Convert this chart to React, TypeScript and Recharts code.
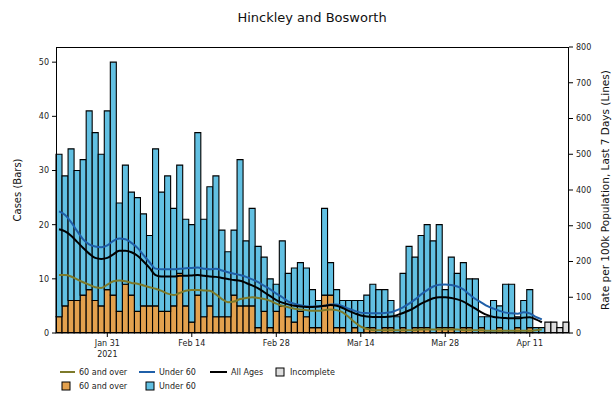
import { Bar, ComposedChart, Line, XAxis, YAxis } from "recharts";

// daily cases, Jan 23 -> Apr 17 2021 (last 4 days incomplete)
const START = new Date(2021, 0, 23);
const MONTHS = ["Jan", "Feb", "Mar", "Apr", "May", "Jun", "Jul", "Aug", "Sep", "Oct", "Nov", "Dec"];

const totalCases = [
  33, 29, 34, 30, 32, 41, 37, 33, 41, 50, 24, 31, 26, 25, 22, 18, 34, 26, 29, 23,
  31, 21, 20, 37, 21, 27, 29, 19, 15, 19, 32, 17, 23, 16, 14, 10, 9, 17, 11, 12,
  13, 12, 8, 6, 23, 13, 8, 6, 6, 6, 6, 7, 9, 8, 8, 6, 3, 11, 16, 14,
  18, 20, 17, 20, 8, 14, 11, 13, 10, 10, 3, 3, 6, 5, 9, 9, 3, 6, 8, 1,
  1, 2, 2, 1, 2,
];

const over60Cases = [
  3, 5, 6, 6, 7, 8, 6, 5, 8, 7, 4, 9, 7, 4, 5, 5, 5, 4, 4, 5,
  11, 5, 2, 7, 3, 5, 3, 3, 3, 7, 5, 5, 5, 1, 4, 1, 4, 5, 3, 2,
  4, 3, 1, 1, 7, 7, 1, 1, 0, 1, 0, 1, 1, 0, 1, 1, 0, 1, 0, 1,
  1, 1, 0, 1, 1, 1, 0, 1, 1, 0, 1, 0, 0, 1, 0, 0, 1, 0, 1, 0,
  0,
];

const INCOMPLETE_DAYS = 4;

// rate per 100k, last 7 days
const rateOver60 = [
  162, 162, 158, 150, 142, 135, 128, 126, 135, 145, 147, 145, 140, 138, 133, 128, 124, 118, 110, 106,
  112, 118, 120, 120, 119, 118, 108, 95, 86, 88, 95, 98, 100, 98, 95, 90, 82, 76, 72, 68,
  66, 64, 62, 62, 64, 66, 64, 58, 45, 30, 18, 12, 8, 8, 8, 8, 8, 8, 8, 8,
  10, 10, 10, 10, 10, 10, 10, 8, 8, 8, 8, 6, 6, 6, 6, 6, 6, 6, 6, 8,
  10,
];

const rateUnder60 = [
  340, 330, 310, 285, 262, 248, 242, 240, 245, 258, 264, 262, 252, 238, 218, 198, 180, 178, 178, 178,
  180, 181, 182, 183, 180, 178, 180, 175, 170, 166, 162, 157, 150, 142, 132, 122, 110, 100, 88, 82,
  78, 75, 74, 74, 76, 80, 80, 75, 68, 62, 57, 56, 55, 55, 56, 58, 64, 72, 82, 94,
  108, 120, 130, 135, 136, 134, 130, 122, 108, 95, 85, 75, 68, 62, 57, 55, 54, 58, 55, 45,
  38,
];

const rateAllAges = [
  290, 284, 272, 255, 238, 222, 210, 207, 210, 220, 230, 230, 226, 216, 200, 182, 162, 158, 158, 158,
  160, 160, 161, 162, 160, 158, 157, 154, 151, 148, 146, 140, 133, 125, 114, 103, 92, 85, 80, 76,
  74, 73, 73, 74, 76, 78, 76, 70, 62, 55, 49, 46, 45, 45, 45, 46, 50, 56, 63, 72,
  82, 90, 97, 100, 100, 98, 94, 88, 78, 68, 58, 50, 45, 43, 42, 41, 41, 43, 44, 38,
  30,
];

const tickLabels = ["Jan 31", "Feb 14", "Feb 28", "Mar 14", "Mar 28", "Apr 11"];
const leftTicks = [0, 10, 20, 30, 40, 50];
const rightTicks = [0, 100, 200, 300, 400, 500, 600, 700, 800];

const ORANGE = "#e3a14e";
const SKY = "#62c0e2";
const GREY = "#dedede";
const OLIVE = "#7d7a2a";
const BLUE = "#1f5fa8";
const FONT = "DejaVu Sans, sans-serif";

const data = totalCases.map((total, i) => {
  const d = new Date(START.getTime());
  d.setDate(START.getDate() + i);
  const complete = i < totalCases.length - INCOMPLETE_DAYS;
  const over = complete ? over60Cases[i] : 0;
  return {
    date: `${MONTHS[d.getMonth()]} ${d.getDate()}`,
    over60: over,
    under60: complete ? total - over : 0,
    incomplete: complete ? 0 : total,
    rOver60: rateOver60[i] ?? null,
    rUnder60: rateUnder60[i] ?? null,
    rAll: rateAllAges[i] ?? null,
  };
});

const DateTick = (props: any) => {
  const { x, y, payload } = props;
  if (!tickLabels.includes(payload.value)) return null;
  return (
    <g transform={`translate(${x},${y})`}>
      <line x1={0} x2={0} y1={0} y2={4} stroke="#000" strokeWidth={1} />
      <text y={13} textAnchor="middle" fontSize={8} fontFamily={FONT} fill="#222">
        {payload.value}
      </text>
      {payload.value === "Jan 31" && (
        <text y={24} textAnchor="middle" fontSize={8} fontFamily={FONT} fill="#222">
          2021
        </text>
      )}
    </g>
  );
};

const tickStyle = { fontSize: 8, fontFamily: FONT, fill: "#222" };

export default function App() {
  return (
    <div
      style={{
        position: "fixed",
        left: 0,
        top: 0,
        width: 615,
        height: 397,
        overflow: "hidden",
        background: "#fff",
      }}
    >
      <ComposedChart
        width={615}
        height={397}
        data={data}
        margin={{ top: 47, right: 0, bottom: 0, left: 0 }}
        barCategoryGap={0}
        barGap={0}
      >
        <XAxis
          dataKey="date"
          interval={0}
          height={64}
          tickLine={false}
          axisLine={false}
          tickSize={0}
          tickMargin={0}
          tick={<DateTick />}
        />
        <YAxis
          yAxisId="cases"
          width={56}
          domain={[0, 52.8]}
          ticks={leftTicks}
          axisLine={false}
          tickSize={4}
          tickMargin={3}
          tick={tickStyle}
          tickLine={{ stroke: "#000" }}
        />
        <YAxis
          yAxisId="rate"
          orientation="right"
          width={46}
          domain={[0, 800]}
          ticks={rightTicks}
          axisLine={false}
          tickSize={4}
          tickMargin={3}
          tick={tickStyle}
          tickLine={{ stroke: "#000" }}
        />
        <Bar yAxisId="cases" dataKey="over60" stackId="c" fill={ORANGE} stroke="#000" strokeWidth={1.1} isAnimationActive={false} />
        <Bar yAxisId="cases" dataKey="under60" stackId="c" fill={SKY} stroke="#000" strokeWidth={1.1} isAnimationActive={false} />
        <Bar yAxisId="cases" dataKey="incomplete" stackId="c" fill={GREY} stroke="#000" strokeWidth={1.1} isAnimationActive={false} />
        <Line yAxisId="rate" type="monotone" dataKey="rOver60" stroke={OLIVE} strokeWidth={2} dot={false} isAnimationActive={false} />
        <Line yAxisId="rate" type="monotone" dataKey="rUnder60" stroke={BLUE} strokeWidth={2} dot={false} isAnimationActive={false} />
        <Line yAxisId="rate" type="monotone" dataKey="rAll" stroke="#000" strokeWidth={2} dot={false} isAnimationActive={false} />
      </ComposedChart>

      <div
        style={{
          position: "absolute",
          left: 56,
          top: 47,
          width: 513,
          height: 286,
          border: "1px solid #000",
          boxSizing: "border-box",
          pointerEvents: "none",
        }}
      />

      <svg width={615} height={397} style={{ position: "absolute", left: 0, top: 0, pointerEvents: "none" }}>
        <text x={312} y={22} textAnchor="middle" fontSize={13} fontFamily={FONT} fill="#111">
          Hinckley and Bosworth
        </text>
        <text transform="translate(21,190) rotate(-90)" textAnchor="middle" fontSize={10} fontFamily={FONT} fill="#111">
          Cases (Bars)
        </text>
        <text transform="translate(609,190) rotate(-90)" textAnchor="middle" fontSize={10.5} fontFamily={FONT} fill="#111">
          Rate per 100k Population, Last 7 Days (Lines)
        </text>

        <g fontSize={8} fontFamily={FONT} fill="#222">
          <line x1={60} x2={75} y1={372} y2={372} stroke={OLIVE} strokeWidth={2} />
          <text x={79} y={375}>60 and over</text>
          <line x1={139} x2={155} y1={372} y2={372} stroke={BLUE} strokeWidth={2} />
          <text x={159} y={375}>Under 60</text>
          <line x1={210} x2={227} y1={372} y2={372} stroke="#000" strokeWidth={2} />
          <text x={231} y={375}>All Ages</text>
          <rect x={276} y={368} width={8} height={8} fill={GREY} stroke="#000" />
          <text x={290} y={375}>Incomplete</text>

          <rect x={62} y={382} width={8} height={8} fill={ORANGE} stroke="#000" />
          <text x={79} y={389}>60 and over</text>
          <rect x={146} y={382} width={8} height={8} fill={SKY} stroke="#000" />
          <text x={159} y={389}>Under 60</text>
        </g>
      </svg>
    </div>
  );
}
